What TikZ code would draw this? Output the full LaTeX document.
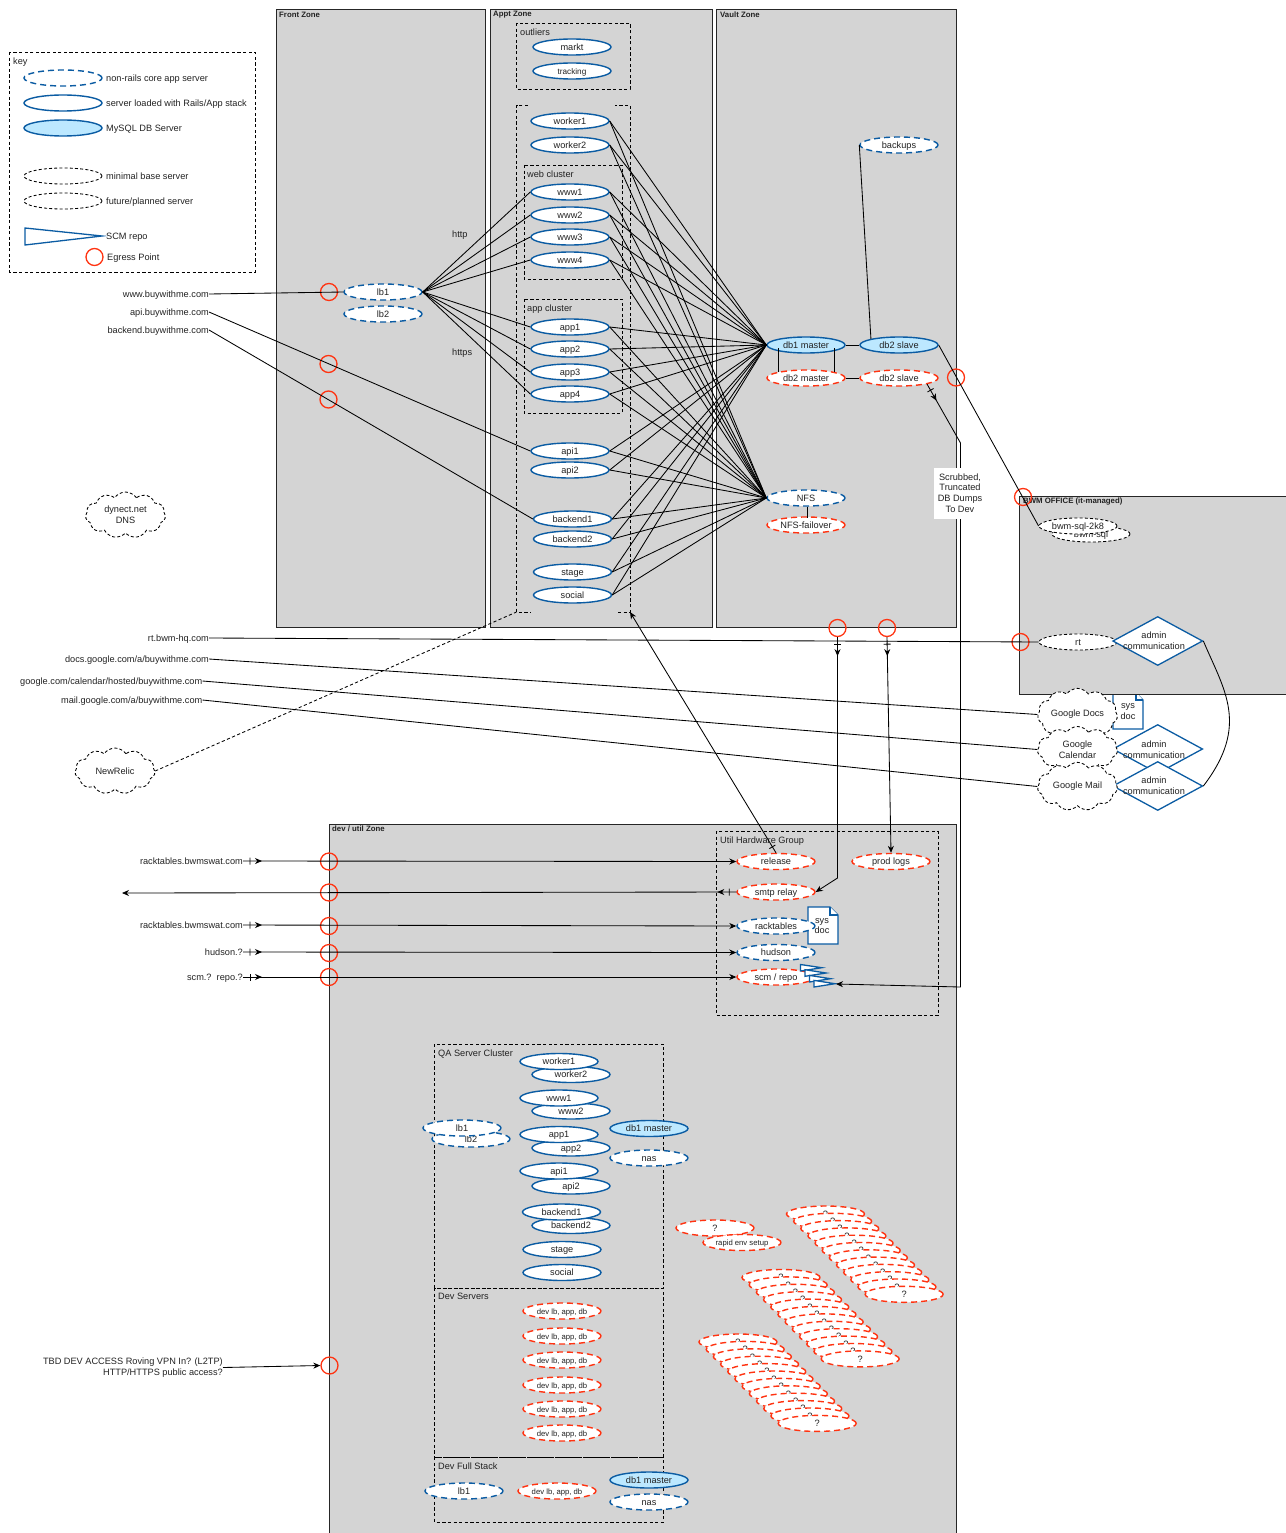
\documentclass[tikz,border=0pt]{standalone}
\usepackage{fontspec}
\setmainfont{Liberation Sans}
\usetikzlibrary{shapes.geometric,shapes.symbols,arrows.meta,decorations.markings}
\definecolor{zonegray}{HTML}{D4D4D4}
\definecolor{srvblue}{HTML}{0B5CA3}
\definecolor{srvred}{HTML}{FF3311}
\definecolor{dbblue}{HTML}{BCE8FF}
\definecolor{inkc}{HTML}{222222}
\tikzset{
  base/.style={font=\fontsize{9.2}{10.6}\selectfont,text=inkc,inner sep=0pt},
  oneline/.style={text height=7.6pt,text depth=1.2pt},
  label/.style={base,oneline,anchor=west},
  rlabel/.style={base,oneline,anchor=east},
  rlabelm/.style={base,anchor=east,align=right},
  ctext/.style={base,align=center},
  zonelabel/.style={base,anchor=west,font=\fontsize{7.8}{9}\selectfont\bfseries},
  zone/.style={draw=black!85,fill=zonegray,line width=1pt},
  group/.style={draw=black,dashed,dash pattern=on 3.2pt off 2.4pt,line width=0.85pt},
  srv/.style={base,oneline,ellipse,minimum width=78pt,minimum height=16pt,fill=white,line width=1.4pt},
  rails/.style={srv,draw=srvblue},
  core/.style={srv,draw=srvblue,dash pattern=on 6pt off 4pt},
  dbsrv/.style={srv,draw=srvblue,fill=dbblue},
  future/.style={srv,draw=srvred,dash pattern=on 6pt off 4pt},
  minimal/.style={srv,draw=black,line width=0.85pt,dash pattern=on 3pt off 2.2pt},
  smalltxt/.style={font=\fontsize{7.7}{9}\selectfont},
  egress/.style={circle,draw=srvred,line width=1.3pt,minimum size=17pt,inner sep=0pt},
  webcloud/.style={base,cloud,cloud puffs=11,cloud puff arc=110,aspect=1.75,draw=black,line width=0.85pt,
    dash pattern=on 3pt off 2.2pt,fill=white,minimum width=80pt,minimum height=46pt,align=center},
  admin/.style={diamond,aspect=1.84,draw=srvblue,fill=white,line width=1.3pt,minimum width=90pt,minimum height=49pt,inner sep=0pt},
  docshape/.style={draw=srvblue,fill=white,line width=1.3pt,line join=miter},
  link/.style={draw=black,line width=0.85pt},
  tip/.style={-{Stealth[length=7pt,width=6pt]}},
  srcmark/.style={postaction={decorate},decoration={markings,
    mark=at position 7pt with {\draw[-,line width=0.85pt] (0pt,-3.5pt)--(0pt,3.5pt);},
    mark=at position 19pt with {\arrow{Stealth[length=7pt,width=6pt]}}}},
  srctick/.style={postaction={decorate},decoration={markings,
    mark=at position 7pt with {\draw[-,line width=0.85pt] (0pt,-3.5pt)--(0pt,3.5pt);}}}
}
\newcommand{\srvstack}[5]{%
  \foreach \i in {0,...,11}{\node[future] (#1\i) at ({#2+#4*\i},{#3+#5*\i}) {?};}}
\begin{document}
\begin{tikzpicture}[x=1pt,y=-1pt]
\useasboundingbox (0,0) rectangle (1285,1533);

% --- zones
\draw[zone] (276,10) rectangle (485.5,627);
\node[zonelabel] (zfront) at (279,15) {Front Zone};
\draw[zone] (490,10) rectangle (712,627);
\node[zonelabel] (zappt) at (493,15) {Appt Zone};
\draw[zone] (716.5,10) rectangle (956.5,627);
\node[zonelabel] (zvault) at (720,15) {Vault Zone};
\draw[zone] (329,824) rectangle (956.5,1540);
\node[zonelabel] (zdev) at (332,829) {dev / util Zone};
% document behind the office zone
\draw[docshape] (1113,692) -- (1135,692) -- (1143,700) -- (1143,729) -- (1113,729) -- cycle;
\draw[docshape] (1136,692) -- (1136,700) -- (1143,700);
\draw[zone] (1019.5,496) rectangle (1292,694);
\node[zonelabel] (zoffice) at (1023,501) {BWM OFFICE (it-managed)};
\node[ctext] (doctxt1) at (1128,711.5) {sys\\doc};

% --- key
\draw[group] (9.5,52) rectangle (255,272);
\node[label] (keyt) at (13,61) {key};
\node[core] (k1) at (63,78) {};
\node[rails] (k2) at (63,103) {};
\node[dbsrv] (k3) at (63,128) {};
\node[minimal] (k4) at (63,176) {};
\node[minimal] (k5) at (63,201) {};
\node[label] (k1t) at (106,78) {non-rails core app server};
\node[label] (k2t) at (106,103) {server loaded with Rails/App stack};
\node[label] (k3t) at (106,128) {MySQL DB Server};
\node[label] (k4t) at (106,176) {minimal base server};
\node[label] (k5t) at (106,201) {future/planned server};
\draw[docshape] (25,228) -- (102,236) -- (25,245) -- cycle;
\node[label] (k6t) at (106,236) {SCM repo};
\node[egress] (k7) at (94.5,257) {};
\node[label] (k7t) at (107,257) {Egress Point};

% --- appt zone groups
\draw[group] (516.5,23) rectangle (630,89);
\node[label] (outl) at (520,32) {outliers};
\draw[group] (528,105) -- (516.5,105) -- (516.5,612) -- (531,612);
\draw[group] (618,612) -- (630,612) -- (630,105) -- (615,105);
\draw[group] (524,165) rectangle (622,279);
\node[label] (webc) at (527,174) {web cluster};
\draw[group] (524,299) rectangle (622,413);
\node[label] (appc) at (527,308) {app cluster};
\coordinate (outerbr) at (630,612);
\coordinate (outerbl) at (516.5,612);

% --- appt servers
\node[rails] (markt) at (572,47) {markt};
\node[rails,font=\fontsize{8.2}{9}\selectfont] (track) at (572,71) {tracking};
\node[rails] (wk1) at (570,121) {worker1};
\node[rails] (wk2) at (570,145) {worker2};
\node[rails] (ww1) at (570,192) {www1};
\node[rails] (ww2) at (570,215) {www2};
\node[rails] (ww3) at (570,237) {www3};
\node[rails] (ww4) at (570,260) {www4};
\node[rails] (ap1) at (570,327) {app1};
\node[rails] (ap2) at (570,349) {app2};
\node[rails] (ap3) at (570,372) {app3};
\node[rails] (ap4) at (570,394) {app4};
\node[rails] (ai1) at (570,451) {api1};
\node[rails] (ai2) at (570,470) {api2};
\node[rails] (be1) at (572.5,519) {backend1};
\node[rails] (be2) at (572.5,539) {backend2};
\node[rails] (stg) at (572.5,572) {stage};
\node[rails] (soc) at (572.5,595) {social};

% --- front
\node[core] (lb1) at (383,292) {lb1};
\node[core] (lb2) at (383,314) {lb2};
\node[label] (http) at (452,234) {http};
\node[label] (https) at (452,352) {https};

% --- vault
\node[core] (bak) at (899,145) {backups};
\node[dbsrv] (db1) at (806,345) {db1 master};
\node[dbsrv] (db2) at (899,345) {db2 slave};
\node[future] (fdb1) at (806,378) {db2 master};
\node[future] (fdb2) at (899,378) {db2 slave};
\node[core] (nfs) at (806,498) {NFS};
\node[future] (nfsf) at (806,525) {NFS-failover};

% --- office and web services
\node[minimal] (bsql) at (1091,534) {bwm-sql};
\node[minimal] (bsql8) at (1078,526) {bwm-sql-2k8};
\node[minimal] (rt) at (1078,642) {rt};
\node[admin] (adm1) at (1157.7,641) {};
\node[ctext] (adm1t) at (1154,641) {admin\\communication};
\node[admin] (adm2) at (1157.7,749) {};
\node[admin] (adm3) at (1157.7,786) {};
\node[ctext] (adm2t) at (1154,749.5) {admin\\communication};
\node[ctext] (adm3t) at (1154,786) {admin\\communication};
\node[webcloud] (gdoc) at (1077.5,714.5) {Google Docs};
\node[webcloud] (gcal) at (1077.5,749.5) {Google\\Calendar};
\node[webcloud] (gmail) at (1077.5,786.5) {Google Mail};
\node[webcloud] (dyn) at (125.5,515) {dynect.net\\DNS};
\node[webcloud] (nrel) at (115,771) {NewRelic};

% --- external url labels
\node[rlabel] (uw) at (209,294) {www.buywithme.com};
\node[rlabel] (ua) at (209,312) {api.buywithme.com};
\node[rlabel] (ub) at (209,330) {backend.buywithme.com};
\node[rlabel] (urt) at (209,638) {rt.bwm-hq.com};
\node[rlabel] (ugd) at (209,659) {docs.google.com/a/buywithme.com};
\node[rlabel] (ugc) at (202.5,681) {google.com/calendar/hosted/buywithme.com};
\node[rlabel] (ugm) at (202.5,700) {mail.google.com/a/buywithme.com};
\node[rlabel] (ur1) at (243,861) {racktables.bwmswat.com};
\node[rlabel] (ur2) at (243,925) {racktables.bwmswat.com};
\node[rlabel] (uh) at (243,952) {hudson.?};
\node[rlabel] (us) at (243,977) {scm.?\ \ repo.?};
\node[rlabelm] (utbd) at (223,1367.5) {TBD DEV ACCESS Roving VPN In? (L2TP)\\HTTP/HTTPS public access?};
\coordinate (smtpout) at (122,893);

% --- util group
\draw[group] (716.5,831) rectangle (938,1015.5);
\node[label] (utilt) at (720,840) {Util Hardware Group};
\draw[docshape] (808,907) -- (830,907) -- (838,915) -- (838,944) -- (808,944) -- cycle;
\draw[docshape] (830,907) -- (830,915) -- (838,915);
\node[future] (rel) at (776,861.5) {release};
\node[future] (plogs) at (891,861.5) {prod logs};
\node[future] (smtp) at (776,892) {smtp relay};
\node[core] (rack) at (776,926) {racktables};
\node[ctext] (doctxt2) at (822,926) {sys\\doc};
\node[core] (hud) at (776,952.5) {hudson};
\node[future] (scm) at (776,977) {scm / repo};
\draw[docshape] (800.5,964.5) -- (821.7,967.7) -- (800.5,971) -- cycle;
\draw[docshape] (805,969.7) -- (826,973) -- (805,976.3) -- cycle;
\draw[docshape] (809.5,975.4) -- (830.5,978.7) -- (809.5,982) -- cycle;
\draw[docshape] (814,980.4) -- (835,983.7) -- (814,987) -- cycle;
\coordinate (scmtip) at (836,984);

% --- QA cluster
\draw[group] (434.5,1044) rectangle (663.5,1288);
\node[label] (qat) at (438,1053) {QA Server Cluster};
\node[rails] (qw2) at (571,1074.5) {worker2};
\node[rails] (qw1) at (559,1061.5) {worker1};
\node[rails] (qx2) at (571,1111) {www2};
\node[rails] (qx1) at (559,1098) {www1};
\node[rails] (qa2) at (571,1148) {app2};
\node[rails] (qa1) at (559,1134.5) {app1};
\node[rails] (qi2) at (571,1186) {api2};
\node[rails] (qi1) at (559,1171) {api1};
\node[rails] (qb2) at (571,1225.5) {backend2};
\node[rails] (qb1) at (561.5,1212) {backend1};
\node[rails] (qs) at (562,1249.5) {stage};
\node[rails] (qso) at (562,1272.5) {social};
\node[core] (ql2) at (471,1139) {lb2};
\node[core] (ql1) at (462,1128) {lb1};
\node[dbsrv] (qdb) at (649,1128.5) {db1 master};
\node[core] (qnas) at (649,1158) {nas};

% --- dev servers
\draw[group] (434.5,1288) rectangle (663.5,1457);
\node[label] (devt) at (438,1296) {Dev Servers};
\node[future,smalltxt] (dv1) at (562,1311) {dev lb, app, db};
\node[future,smalltxt] (dv2) at (562,1336) {dev lb, app, db};
\node[future,smalltxt] (dv3) at (562,1360) {dev lb, app, db};
\node[future,smalltxt] (dv4) at (562,1385) {dev lb, app, db};
\node[future,smalltxt] (dv5) at (562,1409) {dev lb, app, db};
\node[future,smalltxt] (dv6) at (562,1433) {dev lb, app, db};

% --- dev full stack
\draw[group] (434.5,1457) rectangle (663.5,1522);
\node[label] (fst) at (438,1466) {Dev Full Stack};
\node[core] (fl1) at (464,1491) {lb1};
\node[future,smalltxt] (fdv) at (557,1491) {dev lb, app, db};
\node[dbsrv] (fdb) at (649,1480) {db1 master};
\node[core] (fnas) at (649,1502) {nas};

% --- planned server stacks
\node[future] (q0) at (715,1228) {?};
\node[future,smalltxt] (q1) at (742,1242.5) {rapid env setup};
\srvstack{sa}{825.5}{1214}{7.15}{7.3}
\srvstack{sb}{781}{1277.5}{7.2}{7.4}
\srvstack{sc}{738}{1342}{7.2}{7.4}

% --- egress points
\node[egress] (e1) at (329,292) {};
\node[egress] (e2) at (328.5,364) {};
\node[egress] (e3) at (328.5,399.5) {};
\node[egress] (e4) at (956,377.5) {};
\node[egress] (e5) at (1023,497) {};
\node[egress] (e6) at (1020.5,642) {};
\node[egress] (e7) at (837.5,628) {};
\node[egress] (e8) at (887,628) {};
\node[egress] (e9) at (329,861.5) {};
\node[egress] (e10) at (329,892.5) {};
\node[egress] (e11) at (329,926) {};
\node[egress] (e12) at (329,953) {};
\node[egress] (e13) at (329,977) {};
\node[egress] (e14) at (329.5,1365.5) {};

% --- connectors
\foreach \s in {ww1,ww2,ww3,ww4,ap1,ap2,ap3,ap4}{\draw[link] (lb1.east) -- (\s.west);}
\foreach \s in {wk1,wk2,ww1,ww2,ww3,ww4,ap1,ap2,ap3,ap4,ai1,ai2,be1,be2,stg,soc}{
  \draw[link] (\s.east) -- (db1.west);
  \draw[link] (\s.east) -- (nfs.west);}
\draw[link] (uw.east) -- (lb1.west);
\draw[link] (ua.east) -- (ai1.west);
\draw[link] (ub.east) -- (be1.west);
\draw[link] (urt.east) -- (rt.west);
\draw[link] (ugd.east) -- (gdoc.west);
\draw[link] (ugc.east) -- (gcal.west);
\draw[link] (ugm.east) -- (gmail.west);
\draw[link] (db1.east) -- (db2.west);
\draw[link] (fdb1.east) -- (fdb2.west);
\draw[link] (db1.south west) ++(0,-3) -- ++(0,24);
\draw[link] (db1.south east) ++(0,-3) -- ++(0,24);
\draw[link] (nfs.south) ++(1,0) -- ++(0,11);
\draw[link] (bak.west) -- (db2.north west);
\draw[link] (db2.east) -- (bsql8.west);
\draw[link] (adm1.east) .. controls (1224,690) and (1250,725) .. (adm3.east);
\draw[link,dashed,dash pattern=on 3.2pt off 2.4pt] (nrel.east) -- (outerbl);
\draw[link,tip,srctick] (rel.north) -- (outerbr);
\draw[link,tip,srcmark] (e7.south) -- (837.5,878) -- (smtp.east);
\draw[link,tip,srcmark] (e8.south) -- (plogs.north);
\draw[link,tip,srcmark] (fdb2.south east) -- (960.5,443) -- (960.5,987) -- (scmtip);
\draw[link,tip,srcmark] (ur1.east) -- (rel.west);
\draw[link,tip,srcmark] (smtp.west) -- (smtpout);
\draw[link,tip,srcmark] (ur2.east) -- (rack.west);
\draw[link,tip,srcmark] (uh.east) -- (hud.west);
\draw[link,tip,srcmark] (us.east) -- (scm.west);
\draw[link,tip] (utbd.east) -- (e14.west);

% --- label box over the long connector
\node[ctext,fill=white,minimum width=52pt,minimum height=51pt] (scrub) at (960,493) {Scrubbed,\\Truncated\\DB Dumps\\To Dev};
\end{tikzpicture}
\end{document}
